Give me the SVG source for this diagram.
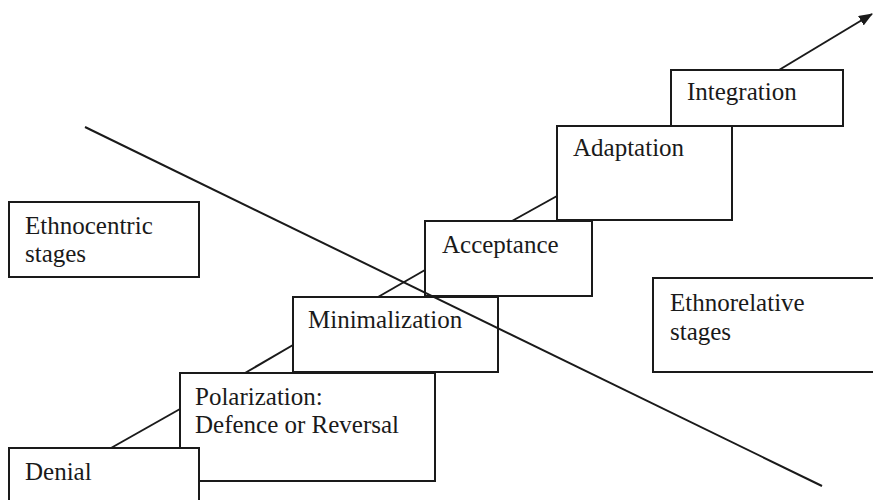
<svg xmlns="http://www.w3.org/2000/svg" width="873" height="500" viewBox="0 0 873 500">
<style>
.box{fill:#fff;stroke:#1a1a1a;stroke-width:2}
.lbl{font-family:"Liberation Serif","Times New Roman","DejaVu Serif",serif;font-size:25px;fill:#1a1a1a}
.ln{stroke:#1a1a1a;stroke-width:2;fill:none}
</style>
<defs>
<marker id="ah" markerWidth="14" markerHeight="11" refX="13" refY="5.5" orient="auto" markerUnits="userSpaceOnUse">
<path d="M0,0 L14,5.5 L0,11 z" fill="#1a1a1a"/>
</marker>
</defs>
<rect width="873" height="500" fill="#fff"/>
<g id="ethnocentric"><rect class="box" x="9" y="202" width="190" height="75"/><text class="lbl" x="25" y="234">Ethnocentric</text><text class="lbl" x="25" y="262">stages</text></g>
<g id="ethnorelative"><rect class="box" x="653" y="278" width="230" height="94"/><text class="lbl" x="670" y="311">Ethnorelative</text><text class="lbl" x="670" y="340">stages</text></g>
<g id="integration"><rect class="box" x="671" y="70" width="172" height="56"/><text class="lbl" x="687" y="100">Integration</text></g>
<g id="adaptation"><rect class="box" x="557" y="126" width="175" height="94"/><text class="lbl" x="573" y="156">Adaptation</text></g>
<g id="acceptance"><rect class="box" x="425" y="221" width="167" height="75"/><text class="lbl" x="442" y="253">Acceptance</text></g>
<g id="minimalization"><rect class="box" x="293" y="297" width="205" height="75"/><text class="lbl" x="308" y="328">Minimalization</text></g>
<g id="polarization"><rect class="box" x="180" y="373" width="255" height="108"/><text class="lbl" x="195" y="405">Polarization:</text><text class="lbl" x="195" y="433">Defence or Reversal</text></g>
<g id="denial"><rect class="box" x="9" y="448" width="190" height="60"/><text class="lbl" x="25" y="480">Denial</text></g>
<g id="connectors">
<line class="ln" x1="111" y1="448" x2="180" y2="409"/>
<line class="ln" x1="245" y1="373" x2="293" y2="345"/>
<line class="ln" x1="378" y1="297" x2="425" y2="270"/>
<line class="ln" x1="512" y1="221" x2="557" y2="196"/>
<line class="ln" x1="779" y1="70" x2="872" y2="14" marker-end="url(#ah)"/>
<line class="ln" x1="85" y1="127" x2="822" y2="486"/>
</g>
</svg>
